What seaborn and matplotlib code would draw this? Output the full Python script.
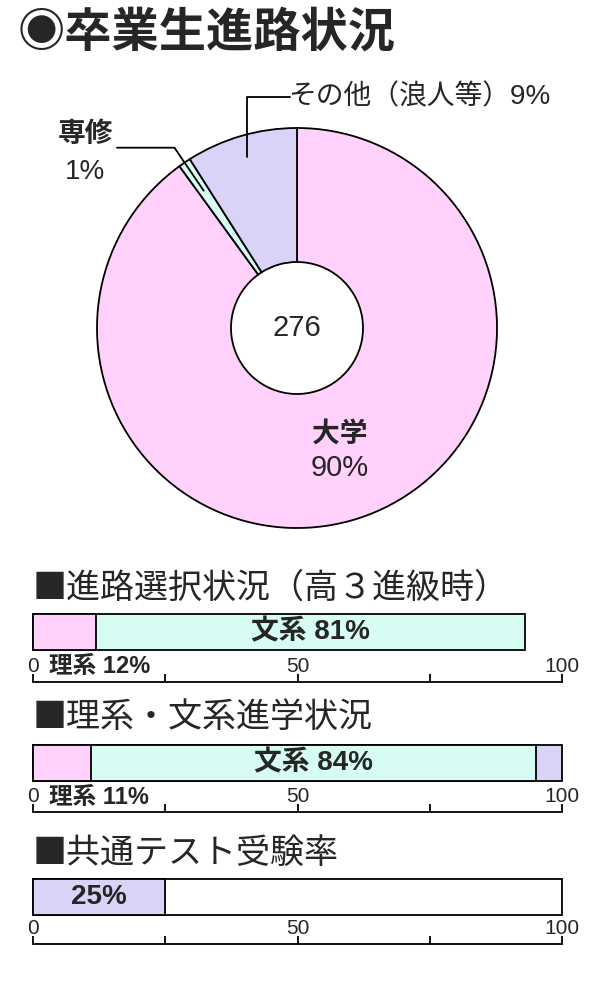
import matplotlib
matplotlib.use('Agg')
import matplotlib.pyplot as plt
import seaborn as sns
import numpy as np

# --- data ---
pie_labels = ['大学', '専修', 'その他（浪人等）']
pie_values = [90, 1, 9]
total_students = 276

course_names = ['理系', '文系']          # 進路選択状況（高３進級時）
course_values = [12, 81]
result_names = ['理系', '文系', 'その他']  # 理系・文系進学状況
result_values = [11, 84, 5]
test_names = ['受験']                    # 共通テスト受験率
test_values = [25]

tick_values = [0, 25, 50, 75, 100]
tick_labels = ['0', '', '50', '', '100']

PINK = '#FFD1FB'
MINT = '#D6FCF4'
LAVENDER = '#D8D3F7'

sns.set_style('white')
JP = ['Noto Sans CJK JP', 'DejaVu Sans']
NUM = ['Liberation Sans', 'Noto Sans CJK JP', 'DejaVu Sans']
plt.rcParams['font.family'] = NUM

fig = plt.figure(figsize=(6, 10), dpi=100)

# title
fig.text(18 / 600, 1 - 33 / 1000, '◉卒業生進路状況', fontsize=34, fontweight='bold',
         va='center', family=JP)

# --- donut chart ---
ax_pie = fig.add_axes([0, 0.44, 1, 0.5])
wedges, _ = ax_pie.pie(pie_values, startangle=90, counterclock=False,
                       colors=[PINK, MINT, LAVENDER],
                       wedgeprops=dict(width=1 - 0.33, edgecolor='black', linewidth=1.3))
ax_pie.set_xlim(-297 / 200, 303 / 200)
ax_pie.set_ylim(-1.16, 1.34)
ax_pie.set_aspect('equal')
ax_pie.axis('off')

ax_pie.text(0, 0, str(total_students), ha='center', va='center', fontsize=21)
ax_pie.text(0.215, -0.535, pie_labels[0], ha='center', va='center', fontsize=20,
            fontweight='bold')
ax_pie.text(0.215, -0.70, f'{pie_values[0]}%', ha='center', va='center', fontsize=21)

# その他 leader
w = wedges[2]
a = np.deg2rad((w.theta1 + w.theta2) / 2)
x0, y0 = 0.89 * np.cos(a), 0.89 * np.sin(a)
ax_pie.plot([x0, x0, -0.035], [y0, 1.155, 1.155], color='black', lw=1.3)
ax_pie.text(-0.045, 1.155, f'{pie_labels[2]}{pie_values[2]}%', ha='left', va='center', fontsize=20)

# 専修 leader
w = wedges[1]
a = np.deg2rad((w.theta1 + w.theta2) / 2)
x0, y0 = 0.83 * np.cos(a), 0.83 * np.sin(a)
x1, y1 = 1.09 * np.cos(a), 1.09 * np.sin(a)
ax_pie.plot([x0, x1, -0.9], [y0, y1, y1], color='black', lw=1.3)
ax_pie.text(-1.06, 0.965, pie_labels[1], ha='center', va='center', fontsize=20, fontweight='bold')
ax_pie.text(-1.06, 0.78, f'{pie_values[1]}%', ha='center', va='center', fontsize=20)


# --- stacked bars ---
def bar_axes(top_px, line_px):
    ax = fig.add_axes([33 / 600, 1 - line_px / 1000, 529 / 600, (line_px - top_px) / 1000])
    return ax, (line_px - top_px) / 36


def draw_stack(ax, values, colors, span, full=None):
    ends = np.cumsum(values)
    if full is not None:
        sns.barplot(x=[100], y=['row'], orient='h', color=full, saturation=1,
                    edgecolor='black', linewidth=1.3, width=1, ax=ax)
    for end, c in reversed(list(zip(ends, colors))):
        sns.barplot(x=[end], y=['row'], orient='h', color=c, saturation=1,
                    edgecolor='black', linewidth=1.3, width=1, ax=ax)
    for p in ax.patches:
        p.set_clip_on(False)
    ax.set_xlim(0, 100)
    ax.set_ylim(-0.5 + span, -0.5)
    for s in ['top', 'left', 'right']:
        ax.spines[s].set_visible(False)
    ax.spines['bottom'].set_linewidth(1.3)
    ax.spines['bottom'].set_color('black')
    ax.set_yticks([])
    ax.set_ylabel('')
    ax.set_xlabel('')
    ax.set_xticks(tick_values)
    ax.set_xticklabels(tick_labels)
    ax.tick_params(axis='x', direction='in', length=6, width=1.3, color='black',
                   pad=-18, labelsize=15, bottom=True)
    return ends


sections = [
    ('■進路選択状況（高３進級時）', 588, 614, 682),
    ('■理系・文系進学状況', 718, 745, 812),
    ('■共通テスト受験率', 853, 879, 944),
]
for title, ty, _, _ in sections:
    fig.text(33 / 600, 1 - ty / 1000, title, fontsize=24.5, va='center', family=JP)

# section 1
ax1, span1 = bar_axes(614, 682)
ends = draw_stack(ax1, course_values, [PINK, MINT], span1)
ax1.text((ends[0] + ends[1]) / 2, 0, f'{course_names[1]} {course_values[1]}%', ha='center',
         va='center', fontsize=20, fontweight='bold')
ax1.text(3, 0.5 + (span1 - 1) * 0.52, f'{course_names[0]} {course_values[0]}%', ha='left',
         va='center', fontsize=17, fontweight='bold')

# section 2
ax2, span2 = bar_axes(745, 812)
ends = draw_stack(ax2, result_values, [PINK, MINT, LAVENDER], span2)
ax2.text((ends[0] + ends[1]) / 2, 0, f'{result_names[1]} {result_values[1]}%', ha='center',
         va='center', fontsize=20, fontweight='bold')
ax2.text(3, 0.5 + (span2 - 1) * 0.52, f'{result_names[0]} {result_values[0]}%', ha='left',
         va='center', fontsize=17, fontweight='bold')

# section 3
ax3, span3 = bar_axes(879, 944)
ends = draw_stack(ax3, test_values, [LAVENDER], span3, full='white')
ax3.text(ends[0] / 2, 0, f'{test_values[0]}%', ha='center', va='center', fontsize=20,
         fontweight='bold')

fig.savefig('out.png', dpi=100)
